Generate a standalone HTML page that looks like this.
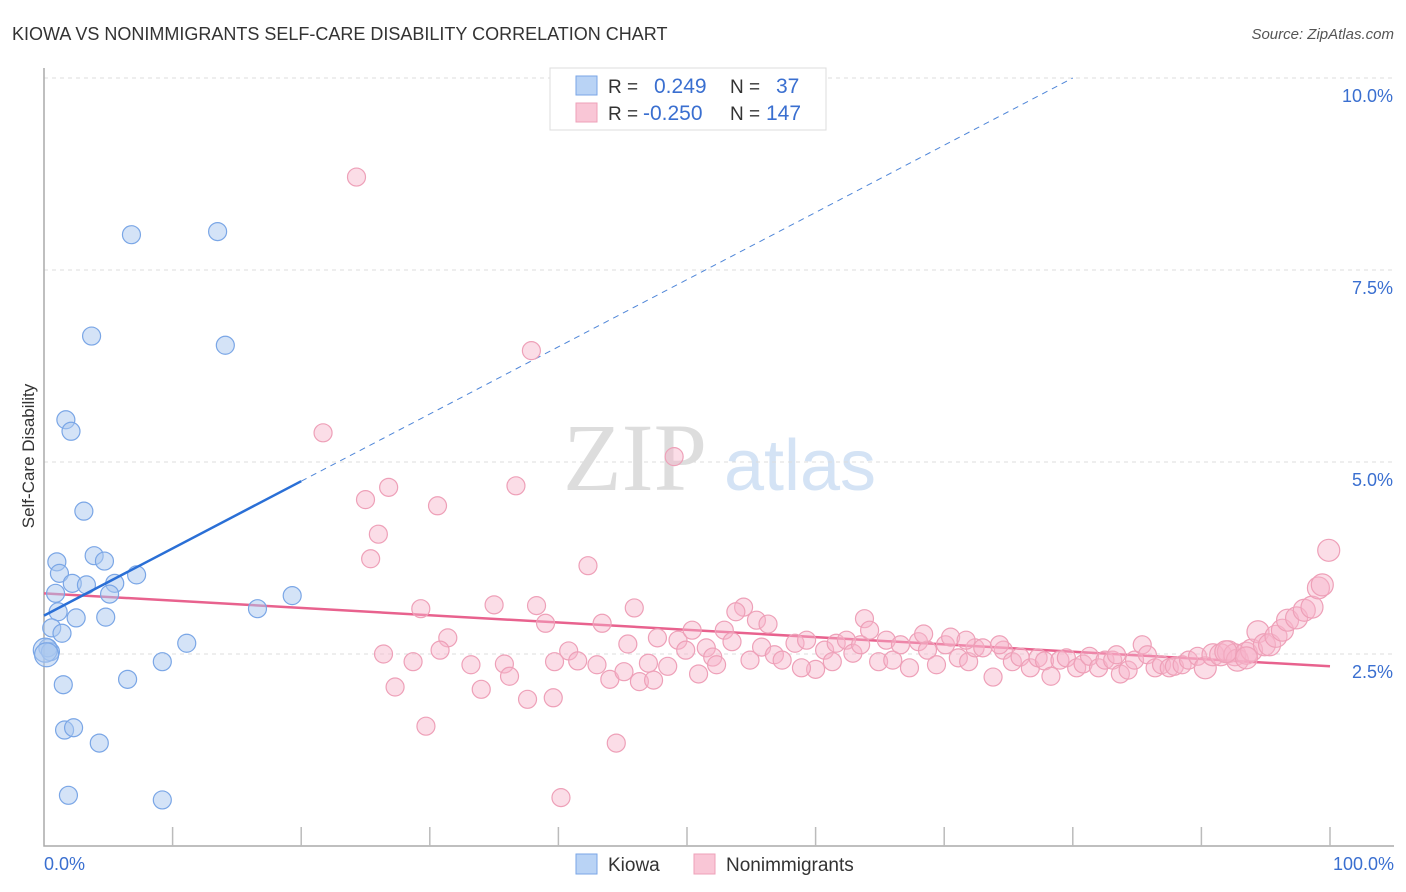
<!DOCTYPE html>
<html><head><meta charset="utf-8">
<style>
body{margin:0;background:#fff;font-family:"Liberation Sans",sans-serif;}
svg{display:block}
</style></head>
<body>
<svg id="chart" width="1406" height="892" viewBox="0 0 1406 892">
<text x="12" y="40" font-size="18" fill="#333">KIOWA VS NONIMMIGRANTS SELF-CARE DISABILITY CORRELATION CHART</text>
<text x="1394" y="39" font-size="15" fill="#555" font-style="italic" text-anchor="end">Source: ZipAtlas.com</text>
<g>
<text x="635" y="490" font-size="96" font-family="Liberation Serif,serif" fill="#ddd" text-anchor="middle">ZIP</text>
<text x="800" y="490" font-size="72" fill="#d4e3f5" text-anchor="middle">atlas</text>
</g>
<g id="grid"></g>
<g id="axes"></g>
<g id="lines"></g>
<g id="points"></g>
<text transform="translate(34,456) rotate(-90)" font-size="17" fill="#333" text-anchor="middle">Self-Care Disability</text>
<text x="44" y="870" font-size="18" fill="#3a6fd0">0.0%</text>
<text x="1394" y="870" font-size="18" fill="#3a6fd0" text-anchor="end">100.0%</text>
<g>
<rect x="550" y="68" width="276" height="62" fill="#fff" stroke="#ddd"/>
<rect x="576" y="76" width="21" height="19" fill="#b9d3f5" stroke="#7aa6e6"/>
<rect x="576" y="103" width="21" height="19" fill="#f9c6d6" stroke="#eea0b8"/>
<text x="608" y="93" font-size="19" fill="#333">R =</text>
<text x="654" y="93" font-size="21" fill="#3a6fd0">0.249</text>
<text x="730" y="93" font-size="19" fill="#333">N =</text>
<text x="776" y="93" font-size="21" fill="#3a6fd0">37</text>
<text x="608" y="120" font-size="19" fill="#333">R =</text>
<text x="643" y="120" font-size="21" fill="#3a6fd0">-0.250</text>
<text x="730" y="120" font-size="19" fill="#333">N =</text>
<text x="766" y="120" font-size="21" fill="#3a6fd0">147</text>
</g>
<g>
<rect x="576" y="854" width="21" height="20" fill="#b9d3f5" stroke="#7aa6e6"/>
<text x="608" y="871" font-size="19" fill="#333">Kiowa</text>
<text x="726" y="871" font-size="19" fill="#333">Nonimmigrants</text>
<rect x="694" y="854" width="21" height="20" fill="#f9c6d6" stroke="#eea0b8"/>
</g>
</svg>
<script>
const yTicks=[2.5,5.0,7.5,10.0];
const yTickLabels=["2.5%","5.0%","7.5%","10.0%"];
const xTicks=[10,20,30,40,50,60,70,80,90,100];
const kiowaX=[6.8,13.5,3.7,14.1,1.7,2.1,3.1,1.0,3.9,4.7,1.2,2.2,3.3,5.5,7.2,0.9,5.1,16.6,19.3,1.1,2.5,4.8,0.6,1.4,11.1,0.3,0.5,9.2,1.5,6.5,1.6,2.3,4.3,1.9,9.2,0.1,0.2];
const kiowaY=[7.96,8.0,6.64,6.52,5.55,5.40,4.36,3.70,3.78,3.71,3.55,3.42,3.40,3.42,3.53,3.29,3.28,3.09,3.26,3.05,2.97,2.98,2.84,2.77,2.64,2.58,2.53,2.40,2.10,2.17,1.51,1.54,1.34,0.66,0.60,2.55,2.49];
const nonX=[24.3,37.9,21.7,49.0,25.0,26.8,36.7,30.6,26.0,25.4,42.3,29.3,35.0,38.3,45.9,39.0,43.4,54.4,53.8,55.4,56.3,63.8,31.4,26.4,28.7,30.8,33.2,35.8,36.2,34.0,27.3,29.7,37.6,39.6,44.5,40.2,39.7,40.8,41.5,43.0,44.0,45.4,45.1,46.3,47.4,47.0,48.5,47.7,49.3,49.9,50.4,50.9,51.5,52.0,52.3,52.9,53.5,54.9,55.8,56.8,57.4,58.4,59.3,60.0,58.9,60.7,61.3,61.6,62.4,62.9,63.5,64.2,64.9,65.5,66.0,66.6,67.3,68.0,68.7,69.4,70.1,70.5,71.1,71.9,72.4,73.0,73.8,74.6,75.3,75.9,76.7,77.3,77.8,78.3,79.0,79.5,80.3,80.8,81.3,82.0,82.5,83.1,83.7,84.3,84.8,85.4,85.8,86.4,86.9,87.5,87.9,88.5,89.0,89.7,90.3,90.9,91.5,92.1,92.6,92.8,93.5,93.9,94.4,94.9,95.3,95.8,96.3,96.7,97.4,98.0,98.6,99.1,99.4,99.9,68.4,71.7,74.3,83.4,91.9,93.5];
const nonY=[8.71,6.45,5.38,5.07,4.51,4.67,4.69,4.43,4.06,3.74,3.65,3.09,3.14,3.13,3.10,2.90,2.90,3.11,3.05,2.94,2.89,2.96,2.71,2.50,2.40,2.55,2.36,2.37,2.21,2.04,2.07,1.56,1.91,1.93,1.34,0.63,2.40,2.54,2.41,2.36,2.17,2.63,2.27,2.14,2.16,2.38,2.34,2.71,2.68,2.55,2.81,2.24,2.58,2.46,2.36,2.81,2.66,2.42,2.59,2.49,2.42,2.64,2.68,2.30,2.32,2.55,2.40,2.64,2.68,2.51,2.62,2.81,2.40,2.68,2.42,2.62,2.32,2.66,2.55,2.36,2.62,2.72,2.45,2.40,2.58,2.58,2.20,2.55,2.40,2.46,2.32,2.45,2.41,2.21,2.42,2.45,2.32,2.37,2.47,2.32,2.42,2.42,2.24,2.29,2.42,2.62,2.49,2.32,2.36,2.32,2.34,2.36,2.42,2.47,2.32,2.49,2.49,2.53,2.49,2.42,2.51,2.55,2.79,2.62,2.62,2.73,2.81,2.94,2.97,3.07,3.11,3.36,3.40,3.85,2.76,2.68,2.62,2.49,2.53,2.45];
const kiowaTrend=[3.0,4.75];
const kiowaTrendX=[0,20];
const nonTrend=[3.29,2.34];

const NS="http://www.w3.org/2000/svg";
const X0=44,X1=1330,Y0=846,PX_PER=76.8;
function sx(v){return X0+(X1-X0)*v/100;}
function sy(v){return Y0-v*PX_PER;}
function mk(tag,attrs,parent){const e=document.createElementNS(NS,tag);for(const k in attrs)e.setAttribute(k,attrs[k]);parent.appendChild(e);return e;}
const grid=document.getElementById('grid'),axes=document.getElementById('axes'),lines=document.getElementById('lines'),pts=document.getElementById('points');
yTicks.forEach((t,i)=>{
  const l=mk('line',{x1:X0,x2:1394,y1:sy(t),y2:sy(t),stroke:'#ddd','stroke-dasharray':'4,4'},grid);
  
  
  const tx=mk('text',{x:1393,y:sy(t)+24,'font-size':18,fill:'#3a6fd0','text-anchor':'end'},grid);
  tx.textContent=yTickLabels[i];
  
  
});
const ax=mk('path',{d:`M${X0},68 V${Y0} H1394`,stroke:'#aaa','stroke-width':1.5,fill:'none'},axes);


xTicks.forEach(t=>{
  const l=mk('line',{x1:sx(t),x2:sx(t),y1:Y0,y2:Y0-19,stroke:'#bbb','stroke-width':1.5},axes);
  
  
});
// kiowa trend
const slope=(kiowaTrend[1]-kiowaTrend[0])/(kiowaTrendX[1]-kiowaTrendX[0]);
const xEnd=kiowaTrendX[0]+(10.0-kiowaTrend[0])/slope;
const kd=mk('line',{x1:sx(kiowaTrendX[1]),y1:sy(kiowaTrend[1]),x2:sx(xEnd),y2:sy(10.0),stroke:'#4f86d8','stroke-width':1,'stroke-dasharray':'6,5'},lines);


const pl=mk('line',{x1:sx(0),y1:sy(nonTrend[0]),x2:sx(100),y2:sy(nonTrend[1]),stroke:'#e8628e','stroke-width':2.5},lines);


nonX.forEach((v,i)=>{
  const c=mk('circle',{cx:sx(v),cy:sy(nonY[i]),r:v>90?11:9,fill:'rgba(246,180,202,0.45)',stroke:'#eea0b8','stroke-width':1.2},pts);
  
  
});
kiowaX.forEach((v,i)=>{
  const c=mk('circle',{cx:sx(v),cy:sy(kiowaY[i]),r:i>=35?12:9,fill:'rgba(170,200,240,0.5)',stroke:'#7aa6e6','stroke-width':1.2},pts);
  
  
});
const kl=mk('line',{x1:sx(kiowaTrendX[0]),y1:sy(kiowaTrend[0]),x2:sx(kiowaTrendX[1]),y2:sy(kiowaTrend[1]),stroke:'#2a6fd6','stroke-width':2.5},pts);


</script>
</body></html>
